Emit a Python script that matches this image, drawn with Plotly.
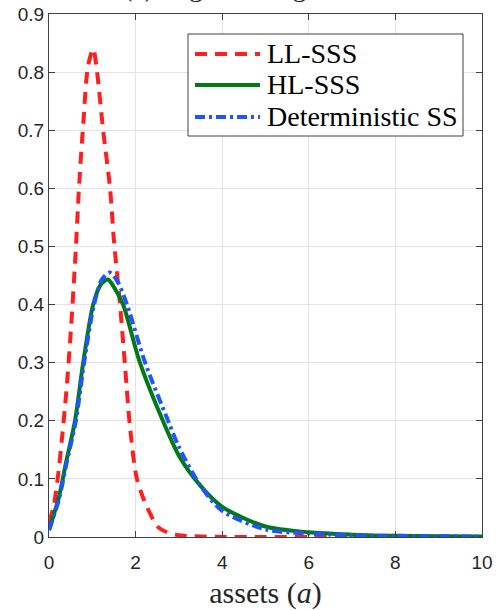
import plotly.graph_objects as go

# ---- data ----
ll_x = [0.0, 0.1, 0.2, 0.3, 0.4, 0.5, 0.6, 0.7, 0.8, 0.9, 1.02, 1.11, 1.25, 1.41, 1.5, 1.64, 1.75, 1.87, 2.03, 2.26, 2.52, 2.7, 3.0, 3.5, 4.0, 5.0, 6.0, 7.0, 8.0, 9.0, 10.0]
ll_y = [0.026, 0.05, 0.10, 0.17, 0.25, 0.35, 0.47, 0.61, 0.72, 0.81, 0.84, 0.80, 0.70, 0.60, 0.51, 0.40, 0.30, 0.19, 0.10, 0.052, 0.017, 0.009, 0.003, 0.001, 0.0, 0.0, 0.0, 0.0, 0.0, 0.0, 0.0]

hl_x = [0.0, 0.23, 0.39, 0.6, 0.79, 1.02, 1.2, 1.36, 1.5, 1.71, 2.1, 2.63, 3.0, 3.5, 4.0, 5.0, 6.0, 7.0, 8.0, 9.0, 10.0]
hl_y = [0.012, 0.069, 0.127, 0.20, 0.30, 0.40, 0.435, 0.443, 0.43, 0.40, 0.30, 0.20, 0.14, 0.088, 0.052, 0.018, 0.008, 0.004, 0.002, 0.0015, 0.001]

ds_x = [0.0, 0.23, 0.4, 0.62, 0.81, 1.04, 1.22, 1.4, 1.58, 1.8, 2.22, 2.75, 3.0, 3.5, 4.0, 5.0, 6.0, 7.0, 8.0, 9.0, 10.0]
ds_y = [0.012, 0.065, 0.125, 0.20, 0.30, 0.40, 0.443, 0.455, 0.44, 0.40, 0.30, 0.20, 0.155, 0.088, 0.045, 0.013, 0.006, 0.003, 0.002, 0.0012, 0.001]

series_names = ["LL-SSS", "HL-SSS", "Deterministic SS"]
x_ticks = [0, 2, 4, 6, 8, 10]
y_ticks = [0, 0.1, 0.2, 0.3, 0.4, 0.5, 0.6, 0.7, 0.8, 0.9]
y_tick_labels = ["0", "0.1", "0.2", "0.3", "0.4", "0.5", "0.6", "0.7", "0.8", "0.9"]

SERIF = "Liberation Serif"
SANS = "Liberation Sans"

W, H = 497, 610
ML, MR, MT, MB = 49, 15, 14, 73
PW, PH = W - ML - MR, H - MT - MB


def px_x(p):
    return (p - ML) / PW


def px_y(p):
    return (H - MB - p) / PH


styles = [
    dict(color="#ff1f1f", width=4, dash="12px,8px"),
    dict(color="#007a12", width=4, dash="solid"),
    dict(color="#1f55ff", width=4, dash="10px,4px,3px,4px"),
]
data = [(ll_x, ll_y), (hl_x, hl_y), (ds_x, ds_y)]

fig = go.Figure()
for (xs, ys), name, st in zip(data, series_names, styles):
    fig.add_trace(go.Scatter(x=xs, y=ys, mode="lines", name=name, showlegend=False,
                             line=dict(shape="spline", smoothing=0.8, **st)))

axis_common = dict(
    showgrid=True, gridcolor="#e3e3e3", gridwidth=1,
    showline=True, linecolor="#404040", linewidth=1.3, mirror="ticks",
    ticks="inside", ticklen=6, tickcolor="#404040", tickwidth=1,
    zeroline=False, automargin=False,
    tickfont=dict(family=SANS, size=19, color="#262626"),
)

fig.update_xaxes(range=[0, 10], tickvals=x_ticks, ticktext=[str(v) for v in x_ticks],
                 ticklabelstandoff=8,
                 title=dict(text="assets (<i>a</i>)", font=dict(family=SERIF, size=30, color="#262626"), standoff=10),
                 **axis_common)
fig.update_yaxes(range=[0, 0.9], tickvals=y_ticks, ticktext=y_tick_labels, **axis_common)

# panel title (mostly cut off at the top edge, as in the reference)
fig.add_annotation(text="(c) High leverage", xref="paper", yref="paper", x=px_x(121), y=1.053,
                   xanchor="left", yanchor="middle", showarrow=False,
                   font=dict(family=SERIF, size=28, color="#262626"))

# legend box (drawn manually to match the compact MATLAB layout)
fig.add_shape(type="rect", xref="paper", yref="paper",
              x0=px_x(188), x1=px_x(463), y0=px_y(136), y1=px_y(34),
              line=dict(color="#404040", width=1), fillcolor="white", layer="above")
row_y = [54, 85, 117]
for name, st, ry in zip(series_names, styles, row_y):
    fig.add_shape(type="line", xref="paper", yref="paper",
                  x0=px_x(195), x1=px_x(260), y0=px_y(ry), y1=px_y(ry),
                  line=st, layer="above")
    fig.add_annotation(text=name, xref="paper", yref="paper", x=px_x(265), y=px_y(ry - 1),
                       xanchor="left", yanchor="middle", showarrow=False,
                       font=dict(family=SERIF, size=28, color="#000000"))

fig.update_layout(
    width=W, height=H,
    margin=dict(l=ML, r=MR, t=MT, b=MB, autoexpand=False),
    plot_bgcolor="white", paper_bgcolor="white",
    showlegend=False,
)

fig.write_html("out.html")
